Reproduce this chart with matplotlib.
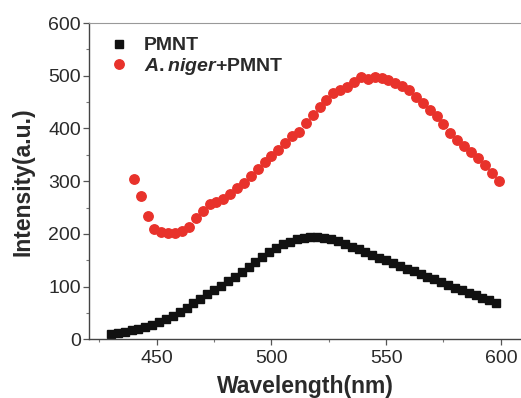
import numpy as np
import matplotlib
matplotlib.use("Agg")
import matplotlib.pyplot as plt
from matplotlib.ticker import MultipleLocator

plt.rcParams['font.family'] = ['Liberation Sans', 'DejaVu Sans']
plt.rcParams['mathtext.fontset'] = 'custom'
plt.rcParams['mathtext.rm'] = 'Liberation Sans:bold'
plt.rcParams['mathtext.it'] = 'Liberation Sans:italic:bold'
plt.rcParams['mathtext.bf'] = 'Liberation Sans:bold'

# PMNT alone (black squares)
pmnt_wl = list(range(430, 599, 3))
pmnt_int = [9.5, 12, 14.5, 17, 19.5, 23, 28, 33, 38.5, 45, 52, 59, 68, 77, 85, 93,
            101, 110, 119, 128, 138, 147, 157, 165, 173, 180, 185, 190, 192, 193.5,
            194, 193, 191, 186, 181, 176, 171, 165, 160, 155, 150, 145, 139, 134,
            129, 124, 119, 114, 108, 103, 98, 93, 88, 84, 79, 74, 69]

# A.niger + PMNT (red circles)
mix_wl = list(range(440, 600, 3))
mix_int = [304, 272, 233, 210, 204, 202, 202, 205, 214, 230, 244, 257, 261, 266,
           275, 287, 297, 310, 324, 336, 348, 359, 372, 386, 394, 411, 426, 440,
           454, 467, 473, 478, 489, 498, 493, 498, 495, 492, 486, 481, 473, 460,
           449, 436, 424, 409, 392, 378, 367, 356, 344, 331, 315, 300]

red = '#e8322b'
text_col = '#2a2a2a'

fig = plt.figure(figsize=(5.21, 3.98), dpi=100)
ax = fig.add_axes([0.171, 0.1475, 0.829, 0.7945])

ax.plot(pmnt_wl, pmnt_int, linestyle='none', marker='s', markersize=5.6,
        color='#111111', label='PMNT')
ax.plot(mix_wl, mix_int, linestyle='none', marker='o', markersize=6.8,
        color=red, label=r'$\mathit{A.niger}$+PMNT')

ax.set_xlim(420.5, 608.8)
ax.set_ylim(0, 600)
ax.xaxis.set_major_locator(MultipleLocator(50))
ax.xaxis.set_minor_locator(MultipleLocator(25))
ax.yaxis.set_major_locator(MultipleLocator(100))
ax.yaxis.set_minor_locator(MultipleLocator(50))

ax.spines['right'].set_visible(False)
ax.spines['top'].set_color('#999999')
for s in ('left', 'bottom'):
    ax.spines[s].set_color('#444444')
    ax.spines[s].set_linewidth(1.0)

ax.tick_params(which='major', direction='out', length=4, width=0.9,
               colors='#555555', labelcolor=text_col, labelsize=14)
ax.tick_params(which='major', axis='y', pad=2)
ax.tick_params(which='minor', direction='out', length=2.5, width=0.8,
               colors='#777777')

ax.set_xlabel('Wavelength(nm)', fontsize=16.5, fontweight='bold', color=text_col,
              labelpad=6)
ax.set_ylabel('Intensity(a.u.)', fontsize=16.5, fontweight='bold', color=text_col,
              labelpad=10)

leg = ax.legend(loc='upper left', frameon=False, fontsize=14, handletextpad=0.7,
                borderaxespad=0.3, labelspacing=0.1, handlelength=1.2,
                bbox_to_anchor=(0.01, 1.0))
for t in leg.get_texts():
    t.set_fontweight('bold')
    t.set_color(text_col)

fig.savefig('out.png', dpi=100)
